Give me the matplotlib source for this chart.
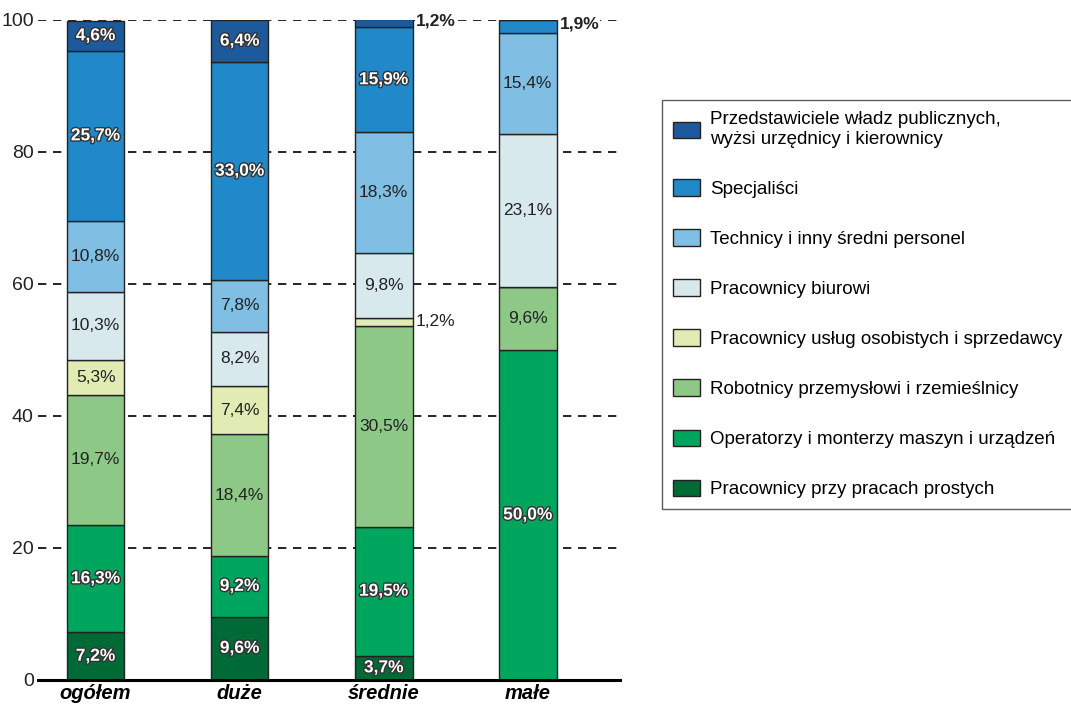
import numpy as np
import matplotlib.pyplot as plt
import matplotlib.patheffects as pe

plt.rcParams['font.family'] = ['Liberation Sans', 'DejaVu Sans']

groups = ['ogółem', 'duże', 'średnie', 'małe']
categories = [
    'Pracownicy przy pracach prostych',
    'Operatorzy i monterzy maszyn i urządzeń',
    'Robotnicy przemysłowi i rzemieślnicy',
    'Pracownicy usług osobistych i sprzedawcy',
    'Pracownicy biurowi',
    'Technicy i inny średni personel',
    'Specjaliści',
    'Przedstawiciele władz publicznych,\nwyżsi urzędnicy i kierownicy',
]
# rows follow categories (bottom to top), columns follow groups
values = [
    [7.2, 9.6, 3.7, 0.0],
    [16.3, 9.2, 19.5, 50.0],
    [19.7, 18.4, 30.5, 9.6],
    [5.3, 7.4, 1.2, 0.0],
    [10.3, 8.2, 9.8, 23.1],
    [10.8, 7.8, 18.3, 15.4],
    [25.7, 33.0, 15.9, 1.9],
    [4.6, 6.4, 1.2, 0.0],
]
colors = ['#006a37', '#00a65d', '#8dc887', '#e0ecb3', '#d8e9ee',
          '#80bfe3', '#2189c9', '#1d5a9b']
white_text = [True, True, False, False, False, False, True, True]

fig = plt.figure(figsize=(10.71, 7.10), dpi=100)
ax = fig.add_axes([38 / 1071, 30 / 710, 582 / 1071, 660 / 710])

x = np.arange(len(groups))
width = 0.40
bottom = np.zeros(len(groups))

for yv in [20, 40, 60, 80, 100]:
    ax.axhline(yv, color='black', lw=1.2, ls=(0, (5, 4)), zorder=0)

bars = []
for i, cat in enumerate(categories):
    vals = np.array(values[i])
    b = ax.bar(x, vals, width, bottom=bottom, color=colors[i],
               edgecolor='#222222', linewidth=1.0, label=cat, zorder=2)
    bars.append(b)
    for j, v in enumerate(vals):
        if v <= 0:
            continue
        label = f'{v:.1f}%'.replace('.', ',')
        if v < 2.5:
            # small segments: label to the right of the bar
            top_seg = i == len(categories) - 1 or all(
                values[k][j] == 0 for k in range(i + 1, len(categories)))
            ax.text(x[j] + width / 2 + 0.02, bottom[j] + v / 2 + (0.3 if top_seg else 0),
                    label, ha='left', va='center', fontsize=12.5,
                    color='#222222', zorder=3,
                    fontweight='bold' if top_seg else 'normal',
                    bbox=dict(facecolor='white', edgecolor='none', pad=0.5) if top_seg else None)
        elif white_text[i]:
            ax.text(x[j], bottom[j] + v / 2, label, ha='center', va='center',
                    fontsize=12.5, color='white', fontweight='bold', zorder=3,
                    path_effects=[pe.withStroke(linewidth=2, foreground='#333333')])
        else:
            ax.text(x[j], bottom[j] + v / 2, label, ha='center', va='center',
                    fontsize=12.5, color='#222222', zorder=3)
    bottom += vals

ax.set_xlim(-0.40, 3.64)
ax.set_ylim(0, 100)
ax.axhline(0, color='black', lw=2.2, zorder=4, clip_on=False)
for s in ['top', 'right', 'left', 'bottom']:
    ax.spines[s].set_visible(False)
ax.set_yticks([0, 20, 40, 60, 80, 100])
ax.tick_params(axis='y', length=0, labelsize=14, pad=3, colors='#222222')
ax.set_xticks(x)
ax.set_xticklabels(groups, fontsize=14.5, fontweight='bold', fontstyle='italic')
ax.tick_params(axis='x', length=0, pad=3)

handles = [b for b in bars][::-1]
labels = categories[::-1]
leg = fig.legend(handles, labels, loc='upper left',
                 bbox_to_anchor=(662 / 1071, 1 - 100 / 710),
                 fontsize=13.5, frameon=True, fancybox=False,
                 edgecolor='#333333', handlelength=1.45, handleheight=0.95,
                 handletextpad=0.5, labelspacing=1.68, borderpad=0.6,
                 borderaxespad=0)
leg.get_frame().set_linewidth(1.0)

fig.savefig('out.png', dpi=100)
